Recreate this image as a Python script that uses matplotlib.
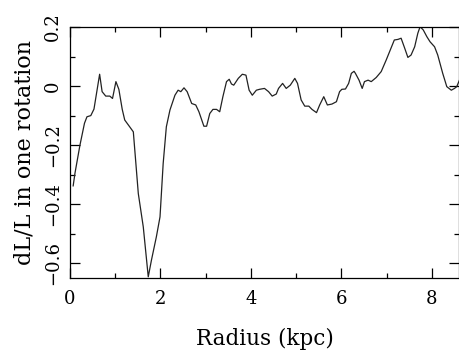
import matplotlib
matplotlib.use("Agg")
import matplotlib.pyplot as plt
from matplotlib.ticker import MultipleLocator, FuncFormatter

# values
radius = [0.07, 0.11, 0.22, 0.32, 0.375, 0.46, 0.53, 0.655, 0.71, 0.79, 0.88, 0.94,
          1.015, 1.08, 1.155, 1.21, 1.31, 1.40, 1.51, 1.62, 1.73, 1.80, 1.91, 1.99,
          2.06, 2.13, 2.21, 2.32, 2.39, 2.45, 2.52, 2.59, 2.69, 2.78, 2.85, 2.96,
          3.02, 3.09, 3.16, 3.24, 3.31, 3.38, 3.46, 3.52, 3.57, 3.62, 3.72, 3.81,
          3.89, 3.96, 4.03, 4.12, 4.19, 4.30, 4.39, 4.47, 4.56, 4.61, 4.70, 4.78,
          4.87, 4.97, 5.03, 5.11, 5.19, 5.28, 5.35, 5.45, 5.52, 5.61, 5.69, 5.79,
          5.89, 5.96, 6.01, 6.09, 6.16, 6.22, 6.28, 6.31, 6.39, 6.46, 6.51, 6.59,
          6.66, 6.77, 6.88, 6.99, 7.08, 7.17, 7.25, 7.32, 7.40, 7.47, 7.54, 7.62,
          7.69, 7.74, 7.81, 7.89, 7.96, 8.06, 8.13, 8.24, 8.33, 8.43, 8.50, 8.55, 8.61]
dl_over_l = [-0.338, -0.295, -0.20, -0.126, -0.104, -0.10, -0.078, 0.04, -0.019, -0.034, -0.034, -0.042,
             0.015, -0.011, -0.079, -0.115, -0.136, -0.155, -0.364, -0.477, -0.646, -0.59, -0.51, -0.443,
             -0.262, -0.138, -0.081, -0.031, -0.014, -0.019, -0.006, -0.019, -0.059, -0.064, -0.087, -0.136,
             -0.136, -0.093, -0.079, -0.079, -0.087, -0.036, 0.015, 0.023, 0.007, 0.003, 0.026, 0.04,
             0.037, -0.014, -0.031, -0.014, -0.011, -0.008, -0.019, -0.034, -0.027, -0.008, 0.009, -0.008,
             0.003, 0.026, 0.009, -0.047, -0.068, -0.068, -0.079, -0.09, -0.064, -0.036, -0.064, -0.061,
             -0.053, -0.019, -0.011, -0.01, 0.009, 0.043, 0.05, 0.043, 0.02, -0.008, 0.015, 0.02,
             0.015, 0.029, 0.049, 0.088, 0.122, 0.156, 0.158, 0.162, 0.128, 0.097, 0.105, 0.133,
             0.179, 0.201, 0.19, 0.167, 0.15, 0.133, 0.105, 0.043, -0.002, -0.014, -0.008, -0.002, 0.02]

plt.rcParams['font.family'] = ['DejaVu Serif']

fig = plt.figure(figsize=(4.6, 3.56), dpi=100)
ax = fig.add_axes([70 / 460, 1 - 278 / 356, 389 / 460, 251 / 356])

ax.plot(radius, dl_over_l, color='#222222', linewidth=0.9)

ax.set_xlim(0, 8.6)
ax.set_ylim(-0.65, 0.2)

ax.xaxis.set_major_locator(MultipleLocator(2))
ax.xaxis.set_minor_locator(MultipleLocator(1))
ax.yaxis.set_major_locator(MultipleLocator(0.2))
ax.yaxis.set_minor_locator(MultipleLocator(0.1))


def fmt(v, pos):
    if abs(v) < 1e-9:
        return '0'
    s = f'{v:.1f}'
    return s.replace('-', '\u2212')


ax.yaxis.set_major_formatter(FuncFormatter(fmt))
ax.xaxis.set_major_formatter(FuncFormatter(lambda v, p: f'{v:.0f}'))

ax.tick_params(which='both', direction='in', top=True, right=True, labelsize=13, width=0.9)
ax.tick_params(which='major', length=7.2)
ax.tick_params(which='minor', length=3.6)
ax.tick_params(axis='x', which='major', pad=9)
ax.tick_params(axis='y', which='major', pad=6)
for lab in ax.get_yticklabels():
    lab.set_rotation(90)
    lab.set_va('center')

for sp in ax.spines.values():
    sp.set_linewidth(0.9)

ax.set_xlabel('Radius (kpc)', fontsize=15.5, labelpad=14)
ax.set_ylabel('dL/L in one rotation', fontsize=16, labelpad=6)

fig.savefig('out.png', dpi=100)
